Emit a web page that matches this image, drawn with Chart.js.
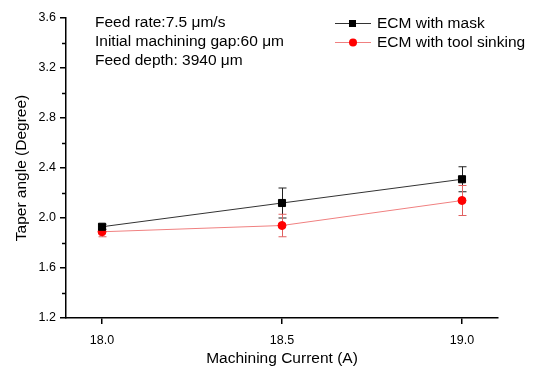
<!DOCTYPE html>
<html>
<head>
<meta charset="utf-8">
<script src="https://cdn.jsdelivr.net/npm/chart.js@4/dist/chart.umd.min.js"></script>
<style>
  html, body { margin: 0; padding: 0; background: #fff; }
  #wrap { width: 538px; height: 369px; }
</style>
</head>
<body>
<div id="wrap"><canvas id="c"></canvas></div>
<script>
// ── data ───────────────────────────────────────────────
const currents = [18.0, 18.5, 19.0];
const maskTaper = [1.93, 2.12, 2.31];
const maskErr = [0.02, 0.12, 0.10];
const sinkTaper = [1.89, 1.94, 2.14];
const sinkErr = [0.04, 0.09, 0.12];
const yTicks = [1.2, 1.6, 2.0, 2.4, 2.8, 3.2, 3.6];
const seriesNames = ['ECM with mask', 'ECM with tool sinking'];
const notes = ['Feed rate:7.5 \u03bcm/s', 'Initial machining gap:60 \u03bcm', 'Feed depth: 3940 \u03bcm'];

const FONT = 'Arial, "Liberation Sans", sans-serif';
const RED = '#ff0000';
const PINK = '#f08080';

function pts(xs, ys, es) {
  return xs.map((x, i) => ({ x, y: ys[i], e: es[i] }));
}

// error bars, minor ticks, notes, legend
const extras = {
  id: 'extras',
  beforeDatasetsDraw(chart) {
    const ctx = chart.ctx;
    const xs = chart.scales.x, ys = chart.scales.y;
    ctx.save();
    chart.data.datasets.forEach(ds => {
      ctx.strokeStyle = ds.barColor;
      ctx.lineWidth = 1;
      ds.data.forEach(p => {
        const px = Math.round(xs.getPixelForValue(p.x)) + 0.5;
        const top = ys.getPixelForValue(p.y + p.e);
        const bot = ys.getPixelForValue(p.y - p.e);
        ctx.beginPath();
        ctx.moveTo(px, top); ctx.lineTo(px, bot);
        ctx.moveTo(px - 4, top); ctx.lineTo(px + 4, top);
        ctx.moveTo(px - 4, bot); ctx.lineTo(px + 4, bot);
        ctx.stroke();
      });
    });
    ctx.restore();
  },
  afterDraw(chart) {
    const ctx = chart.ctx;
    const ys = chart.scales.y;
    const left = chart.chartArea.left;
    ctx.save();
    // minor ticks on y
    ctx.strokeStyle = '#000';
    ctx.lineWidth = 1.5;
    for (let i = 0; i < yTicks.length - 1; i++) {
      const v = (yTicks[i] + yTicks[i + 1]) / 2;
      const py = Math.round(ys.getPixelForValue(v)) + 0.5;
      ctx.beginPath();
      ctx.moveTo(left - 4, py); ctx.lineTo(left, py);
      ctx.stroke();
    }
    // notes
    ctx.fillStyle = '#000';
    ctx.font = '15.5px ' + FONT;
    ctx.textBaseline = 'middle';
    notes.forEach((t, i) => ctx.fillText(t, 95, 23 + i * 19));
    // legend
    const colors = ['#000', RED];
    const lineCols = ['#333', PINK];
    seriesNames.forEach((name, i) => {
      const y = 23 + i * 19;
      ctx.strokeStyle = lineCols[i];
      ctx.lineWidth = 1;
      ctx.beginPath(); ctx.moveTo(335, y + 0.5); ctx.lineTo(371, y + 0.5); ctx.stroke();
      ctx.fillStyle = colors[i];
      if (i === 0) {
        ctx.fillRect(349, y - 3, 7, 7);
      } else {
        ctx.beginPath(); ctx.arc(353, y + 0.5, 4, 0, Math.PI * 2); ctx.fill();
      }
      ctx.fillStyle = '#000';
      ctx.fillText(name, 377, y + 1);
    });
    ctx.restore();
  }
};

new Chart(document.getElementById('c'), {
  type: 'line',
  data: {
    datasets: [
      {
        label: seriesNames[0],
        data: pts(currents, maskTaper, maskErr),
        borderColor: '#333', borderWidth: 1,
        pointStyle: 'rect', pointRadius: 5,
        pointBackgroundColor: '#000', pointBorderColor: '#000',
        barColor: '#222'
      },
      {
        label: seriesNames[1],
        data: pts(currents, sinkTaper, sinkErr),
        borderColor: PINK, borderWidth: 1,
        pointStyle: 'circle', pointRadius: 4,
        pointBackgroundColor: RED, pointBorderColor: RED,
        barColor: '#e06060'
      }
    ]
  },
  options: {
    responsive: true,
    maintainAspectRatio: false,
    animation: false,
    layout: { padding: { left: 0, top: 18, right: 40, bottom: 0 } },
    plugins: { legend: { display: false }, tooltip: { enabled: false } },
    scales: {
      x: {
        type: 'linear', min: 17.9, max: 19.1,
        afterBuildTicks: s => { s.ticks = currents.map(v => ({ value: v })); },
        afterFit: s => { s.height = 51; },
        border: { color: '#000', width: 1.5 },
        grid: { drawOnChartArea: false, color: '#000', tickLength: 6, lineWidth: 1.5 },
        ticks: { color: '#000', padding: 9, font: { family: FONT, size: 12.5 }, callback: v => v.toFixed(1) },
        title: { display: true, text: 'Machining Current (A)', color: '#000', font: { family: FONT, size: 15.5 }, padding: { top: 0, bottom: 1 } }
      },
      y: {
        min: 1.2, max: 3.6,
        afterBuildTicks: s => { s.ticks = yTicks.map(v => ({ value: v })); },
        afterFit: s => { s.width = 66; },
        border: { color: '#000', width: 1.5 },
        grid: { drawOnChartArea: false, color: '#000', tickLength: 6, lineWidth: 1.5 },
        ticks: { color: '#000', padding: 4, font: { family: FONT, size: 12.5 }, callback: v => v.toFixed(1) },
        title: { display: true, text: 'Taper angle (Degree)', color: '#000', font: { family: FONT, size: 15.5 }, padding: { top: 12, bottom: 0 } }
      }
    }
  },
  plugins: [extras]
});
</script>
</body>
</html>
